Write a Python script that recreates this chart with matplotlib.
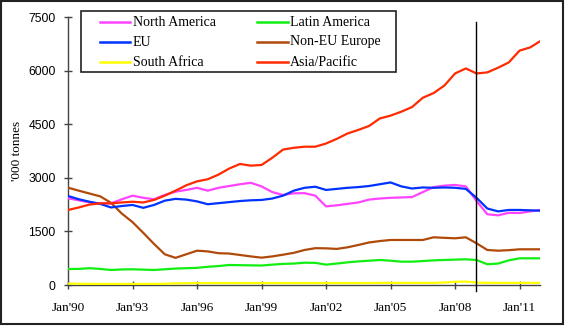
import matplotlib
matplotlib.use("Agg")
import matplotlib.pyplot as plt
from matplotlib.patches import Rectangle
from matplotlib.lines import Line2D

# Half-yearly observations (decimal years), last point December 2011
years = [1990.0, 1990.5, 1991.0, 1991.5, 1992.0, 1992.5, 1993.0, 1993.5,
         1994.0, 1994.5, 1995.0, 1995.5, 1996.0, 1996.5, 1997.0, 1997.5,
         1998.0, 1998.5, 1999.0, 1999.5, 2000.0, 2000.5, 2001.0, 2001.5,
         2002.0, 2002.5, 2003.0, 2003.5, 2004.0, 2004.5, 2005.0, 2005.5,
         2006.0, 2006.5, 2007.0, 2007.5, 2008.0, 2008.5, 2009.0, 2009.5,
         2010.0, 2010.5, 2011.0, 2011.5, 2011.92]

# '000 tonnes
north_america = [2426, 2370, 2310, 2280, 2286, 2398, 2500, 2440, 2400, 2520,
                 2612, 2660, 2720, 2640, 2720, 2770, 2820, 2860, 2760, 2600,
                 2520, 2566, 2570, 2500, 2200, 2230, 2270, 2310, 2390, 2420,
                 2440, 2450, 2460, 2600, 2740, 2780, 2800, 2760, 2350, 1980,
                 1950, 2020, 2015, 2060, 2099]
latin_america = [448, 450, 470, 450, 420, 435, 440, 430, 420, 440,
                 460, 470, 480, 510, 530, 560, 555, 550, 545, 570,
                 590, 600, 624, 620, 570, 600, 634, 660, 680, 700,
                 680, 653, 653, 670, 690, 700, 710, 719, 700, 580,
                 600, 690, 747, 747, 747]
eu = [2491, 2400, 2330, 2270, 2170, 2210, 2240, 2160, 2240, 2360,
      2410, 2390, 2340, 2260, 2290, 2320, 2350, 2370, 2380, 2420,
      2500, 2640, 2720, 2750, 2660, 2690, 2720, 2740, 2770, 2820,
      2870, 2760, 2700, 2730, 2720, 2730, 2720, 2690, 2440, 2140,
      2060, 2100, 2100, 2090, 2080]
non_eu_europe = [2724, 2640, 2560, 2480, 2300, 2000, 1760, 1460, 1150, 860,
                 760, 860, 960, 940, 890, 880, 840, 800, 765, 800,
                 848, 900, 980, 1030, 1026, 1010, 1055, 1120, 1190, 1230,
                 1260, 1260, 1260, 1260, 1335, 1320, 1307, 1335, 1167, 980,
                 960, 975, 999, 999, 999]
south_africa = [40, 35, 30, 30, 30, 30, 30, 30, 30, 35,
                45, 50, 55, 55, 55, 55, 55, 55, 55, 55,
                55, 55, 55, 55, 55, 55, 55, 55, 55, 60,
                60, 60, 60, 60, 60, 70, 90, 95, 70, 60,
                60, 60, 60, 60, 60]
asia_pacific = [2099, 2170, 2250, 2286, 2286, 2310, 2330, 2310, 2380, 2500,
                2640, 2790, 2900, 2960, 3090, 3260, 3387, 3340, 3359, 3560,
                3790, 3840, 3870, 3870, 3960, 4090, 4240, 4340, 4450, 4660,
                4740, 4850, 4980, 5240, 5370, 5580, 5920, 6060, 5920, 5950,
                6080, 6230, 6560, 6650, 6810]

series_names = ["North America", "Latin America", "EU", "Non-EU Europe",
                "South Africa", "Asia/Pacific"]
series_colors = ["#ff44ff", "#11ee11", "#0033ff", "#b04a0a", "#ffff00", "#ff2a00"]

y_ticks = [0, 1500, 3000, 4500, 6000, 7500]
x_ticks = [1990, 1993, 1996, 1999, 2002, 2005, 2008, 2011]
x_labels = ["Jan'90", "Jan'93", "Jan'96", "Jan'99", "Jan'02", "Jan'05",
            "Jan'08", "Jan'11"]
crisis_marker = 2008.97

W, H = 566, 326
fig = plt.figure(figsize=(W / 100, H / 100), dpi=100)
ax = fig.add_axes([68 / W, (H - 285) / H, (540 - 68) / W, (285 - 17) / H])


def fx(px):
    return px / W


def fy(py):
    return 1 - py / H


all_series = [north_america, latin_america, eu, non_eu_europe,
              south_africa, asia_pacific]
# draw in an order that keeps Asia/Pacific and EU on top
order = [4, 1, 3, 0, 2, 5]
for i in order:
    ax.plot(years, all_series[i], color=series_colors[i], lw=1.6,
            solid_joinstyle="round", zorder=3)

ax.set_xlim(1990, 2011.95)
ax.set_ylim(0, 7500)

for s in ["top", "right"]:
    ax.spines[s].set_visible(False)
for s in ["left", "bottom"]:
    ax.spines[s].set_color("#444444")
    ax.spines[s].set_linewidth(1.0)

ax.set_yticks(y_ticks)
ax.set_yticklabels([str(v) for v in y_ticks], family="Liberation Sans",
                   fontsize=8.7)
ax.set_xticks(x_ticks)
ax.set_xticklabels(x_labels, family="Liberation Serif", fontsize=9.5)
ax.tick_params(axis="both", direction="inout", length=6, width=1.0,
               color="#444444")
ax.tick_params(axis="x", pad=9)
ax.tick_params(axis="y", pad=6)

ax.set_ylabel("'000 tonnes", family="Liberation Serif", fontsize=9.5)
ax.yaxis.set_label_coords(-(68 - 23) / (540 - 68), 0.5)

# vertical marker line, running slightly below the axis
ax.axvline(crisis_marker, ymin=-0.022, ymax=0.981, color="black", lw=1.0,
           clip_on=False, zorder=4)

# legend box: two columns, three rows
fig.patches.append(Rectangle((fx(81), fy(72)), fx(396) - fx(81),
                             fy(11) - fy(72), transform=fig.transFigure,
                             fill=True, facecolor="white",
                             edgecolor="#222222", lw=1.2, zorder=5))
col_line = [(100, 130), (257, 288)]
col_text = [133, 290]
row_y = [22, 42, 62]
for k, (name, color) in enumerate(zip(series_names, series_colors)):
    r, c = k // 2, k % 2
    x0, x1 = col_line[c]
    fig.add_artist(Line2D([fx(x0), fx(x1)], [fy(row_y[r])] * 2,
                          transform=fig.transFigure, color=color, lw=1.8,
                          zorder=6))
    fig.text(fx(col_text[c]), fy(row_y[r]), name, family="Liberation Serif",
             fontsize=10, va="center", ha="left", zorder=6)

# outer frame around the whole figure
fig.patches.append(Rectangle((1 / W, 2 / H), 562 / W, 323 / H,
                             transform=fig.transFigure, fill=False,
                             edgecolor="#222222", lw=1.5))

fig.savefig("out.png", dpi=100)
